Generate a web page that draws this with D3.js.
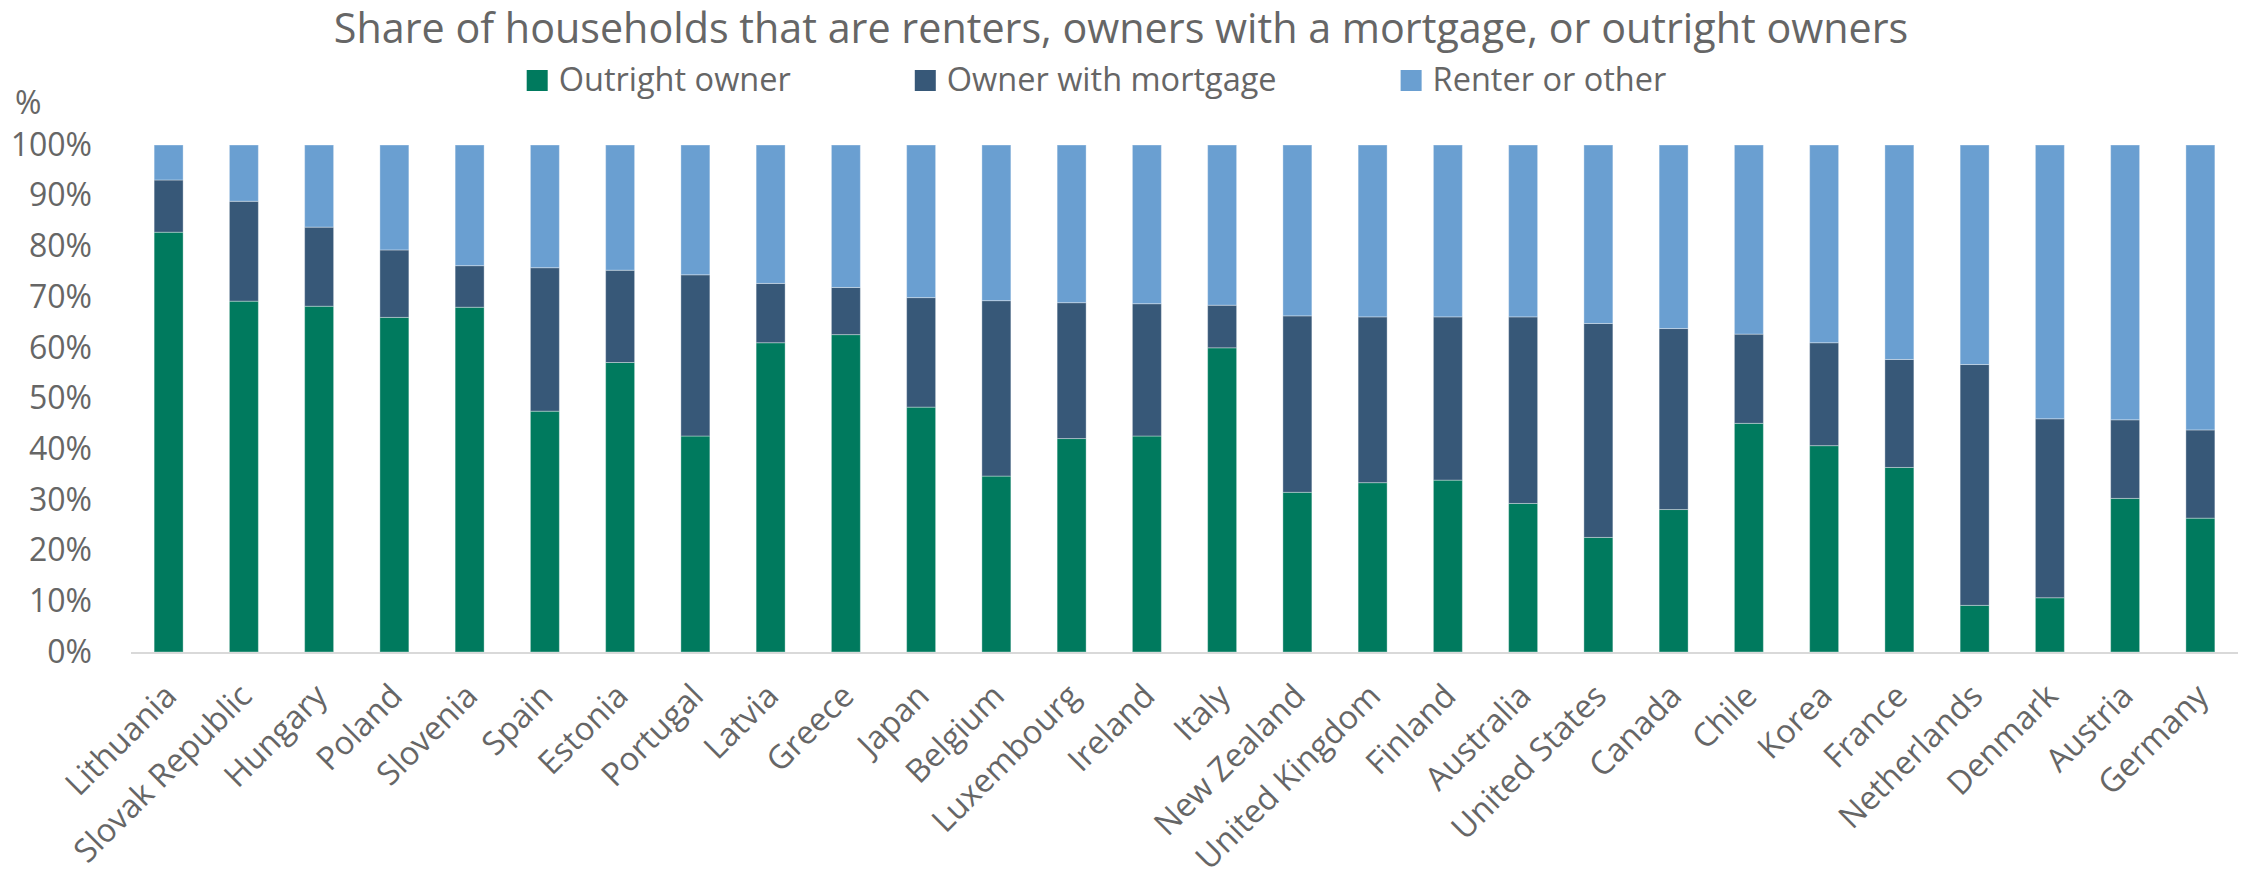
<!DOCTYPE html>
<html>
<head>
<meta charset="utf-8">
<script src="https://cdn.jsdelivr.net/npm/d3@7"></script>
<style>
  html, body { margin: 0; padding: 0; background: #fff; }
  svg { display: block; }
  text { font-family: "Open Sans", "Noto Sans", sans-serif; fill: #666666; }
</style>
</head>
<body>
<svg id="chart" width="2241" height="882"></svg>
<script>
const countries = ["Lithuania","Slovak Republic","Hungary","Poland","Slovenia","Spain","Estonia","Portugal","Latvia","Greece","Japan","Belgium","Luxembourg","Ireland","Italy","New Zealand","United Kingdom","Finland","Australia","United States","Canada","Chile","Korea","France","Netherlands","Denmark","Austria","Germany"];
const outrightOwner = [82.8,69.2,68.2,66.0,68.0,47.5,57.1,42.6,61.0,62.6,48.3,34.7,42.1,42.6,60.0,31.5,33.4,33.9,29.3,22.6,28.1,45.1,40.7,36.4,9.2,10.7,30.3,26.4];
const ownerWithMortgage = [10.3,19.7,15.6,13.3,8.2,28.3,18.2,31.8,11.7,9.3,21.6,34.6,26.8,26.1,8.4,34.8,32.7,32.2,36.8,42.2,35.7,17.6,20.3,21.3,47.5,35.3,15.5,17.4];
const renterOrOther = [6.9,11.1,16.2,20.7,23.8,24.2,24.7,25.6,27.3,28.1,30.1,30.7,31.1,31.3,31.6,33.7,33.9,33.9,33.9,35.2,36.2,37.3,39.0,42.3,43.3,54.0,54.2,56.2];
const seriesNames = ["Outright owner","Owner with mortgage","Renter or other"];
const seriesColors = ["#007A5E","#375878","#6A9FD1"];
const yTicks = [0,10,20,30,40,50,60,70,80,90,100];
const titleText = "Share of households that are renters, owners with a mortgage, or outright owners";
const yUnit = "%";

(function () {
const svg = d3.select("#chart");
const mLeft = 131, mRight = 2238, mTop = 145, mBottom = 652;

const rows = countries.map((c, i) => ({
  country: c,
  "Outright owner": outrightOwner[i],
  "Owner with mortgage": ownerWithMortgage[i],
  "Renter or other": renterOrOther[i]
}));
const stack = d3.stack().keys(seriesNames)(rows);

const x = d3.scaleBand().domain(countries).range([mLeft, mRight]).paddingInner(0.615).paddingOuter(0.3075);
const y = d3.scaleLinear().domain([0, 100]).range([mBottom, mTop]);
const color = d3.scaleOrdinal().domain(seriesNames).range(seriesColors);

// bars
svg.append("g").selectAll("g").data(stack).join("g")
  .attr("fill", d => color(d.key))
  .selectAll("rect").data(d => d).join("rect")
  .attr("x", d => x(d.data.country))
  .attr("width", x.bandwidth())
  .attr("y", d => y(d[1]))
  .attr("height", d => y(d[0]) - y(d[1]))
  .attr("stroke", "#ffffff").attr("stroke-opacity", 0.35).attr("stroke-width", 1);

// x axis baseline
svg.append("line")
  .attr("x1", mLeft).attr("x2", mRight)
  .attr("y1", y(0) + 1).attr("y2", y(0) + 1)
  .attr("stroke", "#d9d9d9").attr("stroke-width", 2);

// y axis labels
const yAxis = d3.axisLeft(y).tickValues(yTicks).tickFormat(d => d + "%").tickSize(0).tickPadding(0);
const gy = svg.append("g").attr("transform", `translate(92,0)`).call(yAxis);
gy.select(".domain").remove();
gy.attr("font-family", null).attr("font-size", null);
gy.selectAll("text").attr("font-size", 32).style("fill", "#666666");

svg.append("text").attr("x", 15).attr("y", 114).attr("font-size", 32).text(yUnit);

// x axis labels
const xAxis = d3.axisBottom(x).tickSize(0).tickPadding(0);
const gx = svg.append("g").attr("transform", `translate(0,${mBottom})`).call(xAxis);
gx.select(".domain").remove();
gx.attr("font-family", null).attr("font-size", null);
gx.selectAll(".tick text")
  .attr("font-size", 32.5).style("fill", "#666666")
  .attr("text-anchor", "end").attr("dy", null).attr("y", 0)
  .attr("transform", "translate(10,46) rotate(-45)");

// title
const title = svg.append("text").attr("x", 1121).attr("y", 43).attr("text-anchor", "middle")
  .attr("font-size", 34).text(titleText);
const tw = title.node().getComputedTextLength();
title.attr("font-size", 34 * 1575 / tw);

// legend
const legend = svg.append("g");
let lx = 0;
seriesNames.forEach((name, i) => {
  const g = legend.append("g").attr("transform", `translate(${lx},0)`);
  g.append("rect").attr("x", 0).attr("y", 70).attr("width", 21).attr("height", 21).attr("fill", seriesColors[i]);
  const t = g.append("text").attr("x", 32).attr("y", 91).attr("font-size", 32.5).text(name);
  const w = t.node().getComputedTextLength();
  lx += 32 + w + (i < seriesNames.length - 1 ? 124 : 0);
});
legend.attr("transform", `translate(${1096.5 - lx / 2},0)`);
})();
</script>
</body>
</html>
